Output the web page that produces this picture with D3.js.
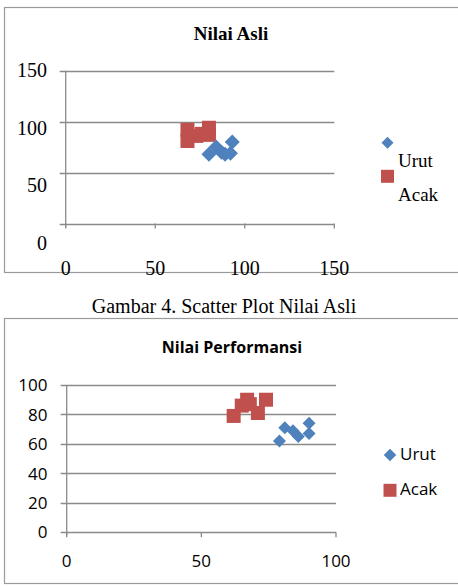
<!DOCTYPE html>
<html>
<head>
<meta charset="utf-8">
<script src="https://cdn.jsdelivr.net/npm/d3@7"></script>
<style>
  body { margin: 0; background: #fff; }
  svg { display: block; }
</style>
</head>
<body>
<div id="chart"></div>
<script>
// values
var seriesNames = ["Urut", "Acak"]
var seriesColors = ["#4F81BD", "#C0504D"]

var asliUrut = [[80, 68], [84, 75], [87, 70], [89, 68], [92, 69], [93, 80]]
var asliAcak = [[68, 92], [68, 81], [73, 86], [76, 88], [80, 94], [80, 87]]
var asliTicks = [0, 50, 100, 150]

var perfUrut = [[79, 62], [81, 71], [84, 69], [86, 65], [90, 74], [90, 67]]
var perfAcak = [[62, 79], [65, 86], [67, 90], [68, 87], [71, 81], [74, 90]]
var perfYTicks = [0, 20, 40, 60, 80, 100]
var perfXTicks = [0, 50, 100]

var caption = "Gambar 4. Scatter Plot Nilai Asli"

var svg = d3.select("#chart").append("svg")
            .attr("width", 458)
            .attr("height", 586)

var gridColor = "#8a8a8a"

function frame(g, top, bottom) {
    g.append("rect")
        .attr("x", 4.5).attr("y", top + 0.5)
        .attr("width", 470).attr("height", bottom - top)
        .attr("fill", "none")
        .attr("stroke", "#9a9a9a")
        .attr("stroke-width", 1.2)
}

function marker(name, size) {
    if (name == "Urut") {
        return d3.symbol().type(d3.symbolSquare).size(size * size / 2)()
    }
    return d3.symbol().type(d3.symbolSquare).size(size * size)()
}

function drawPoints(g, x, y, data, name, size) {
    var color = seriesColors[seriesNames.indexOf(name)]
    g.selectAll(".pt-" + name)
        .data(data)
        .enter().append("path")
        .attr("class", "pt-" + name)
        .attr("d", marker(name, size))
        .attr("fill", color)
        .attr("transform", function(d) {
            return "translate(" + x(d[0]) + "," + y(d[1]) + ")" + (name == "Urut" ? " rotate(45)" : "")
        })
}

function gridAndAxes(g, x, y, yTicks, xTicks) {
    // horizontal gridlines (with a small tick out to the left)
    g.selectAll(".grid")
        .data(yTicks)
        .enter().append("line")
        .attr("x1", x.range()[0] - 6)
        .attr("x2", x.range()[1])
        .attr("y1", function(d) { return Math.round(y(d)) + 0.5 })
        .attr("y2", function(d) { return Math.round(y(d)) + 0.5 })
        .attr("stroke", gridColor)
        .attr("stroke-width", 1.3)

    // y axis line
    g.append("line")
        .attr("x1", x(0)).attr("x2", x(0))
        .attr("y1", y(yTicks[yTicks.length - 1])).attr("y2", y(0) + 3)
        .attr("stroke", gridColor).attr("stroke-width", 1.3)

    // x ticks
    g.selectAll(".xtick")
        .data(xTicks)
        .enter().append("line")
        .attr("x1", function(d) { return x(d) }).attr("x2", function(d) { return x(d) })
        .attr("y1", y(0)).attr("y2", y(0) + 5)
        .attr("stroke", gridColor).attr("stroke-width", 1.3)
}

// ---------- chart 1 : Nilai Asli ----------
var g1 = svg.append("g")
frame(g1, 7, 272)

var x1 = d3.scaleLinear().domain([0, 150]).range([65.7, 334.3])
var y1 = d3.scaleLinear().domain([0, 150]).range([223.5, 70.7])
// the labels of this chart sit on a looser spacing than the gridlines
var y1Lab = d3.scaleLinear().domain([0, 150]).range([243, 70])

gridAndAxes(g1, x1, y1, asliTicks, asliTicks)

g1.selectAll(".ylab")
    .data(asliTicks)
    .enter().append("text")
    .attr("x", 47)
    .attr("y", function(d) { return y1Lab(d) })
    .attr("dy", "0.35em")
    .style("text-anchor", "end")
    .style("font", "20px 'Liberation Serif', serif")
    .text(function(d) { return d })

g1.selectAll(".xlab")
    .data(asliTicks)
    .enter().append("text")
    .attr("x", function(d) { return x1(d) })
    .attr("y", 275)
    .style("text-anchor", "middle")
    .style("font", "20px 'Liberation Serif', serif")
    .text(function(d) { return d })

drawPoints(g1, x1, y1, asliAcak, "Acak", 14)
drawPoints(g1, x1, y1, asliUrut, "Urut", 15)

g1.append("text")
    .attr("x", 231).attr("y", 39.5)
    .style("text-anchor", "middle")
    .style("font", "bold 19px 'Liberation Serif', serif")
    .text("Nilai Asli")

// legend (text sits below its marker)
var leg1 = [{ name: "Urut", my: 142.7, ty: 166.7 }, { name: "Acak", my: 176.3, ty: 201 }]
leg1.forEach(function(d) {
    g1.append("path")
        .attr("d", marker(d.name, d.name == "Urut" ? 12 : 13))
        .attr("fill", seriesColors[seriesNames.indexOf(d.name)])
        .attr("transform", "translate(387.5," + d.my + ")" + (d.name == "Urut" ? " rotate(45)" : ""))
    g1.append("text")
        .attr("x", 398).attr("y", d.ty)
        .style("font", "19px 'Liberation Serif', serif")
        .text(d.name)
})

// caption
svg.append("text")
    .attr("x", 224).attr("y", 312.5)
    .style("text-anchor", "middle")
    .style("font", "20px 'Liberation Serif', serif")
    .text(caption)

// ---------- chart 2 : Nilai Performansi ----------
var g2 = svg.append("g")
frame(g2, 318, 583)

var x2 = d3.scaleLinear().domain([0, 100]).range([66.7, 336])
var y2 = d3.scaleLinear().domain([0, 100]).range([532.3, 385])

gridAndAxes(g2, x2, y2, perfYTicks, perfXTicks)

g2.selectAll(".ylab")
    .data(perfYTicks)
    .enter().append("text")
    .attr("x", 47.5)
    .attr("y", function(d) { return y2(d) })
    .attr("dy", "0.36em")
    .style("text-anchor", "end")
    .style("font", "17px 'Open Sans', sans-serif")
    .text(function(d) { return d })

g2.selectAll(".xlab")
    .data(perfXTicks)
    .enter().append("text")
    .attr("x", function(d) { return x2(d) })
    .attr("y", 567)
    .style("text-anchor", "middle")
    .style("font", "17px 'Open Sans', sans-serif")
    .text(function(d) { return d })

drawPoints(g2, x2, y2, perfAcak, "Acak", 14)
drawPoints(g2, x2, y2, perfUrut, "Urut", 13)

g2.append("text")
    .attr("x", 232).attr("y", 353)
    .style("text-anchor", "middle")
    .style("font", "bold 16px 'Open Sans', sans-serif")
    .text("Nilai Performansi")

var leg2 = [{ name: "Urut", my: 455, ty: 459.5 }, { name: "Acak", my: 490.3, ty: 494.5 }]
leg2.forEach(function(d) {
    g2.append("path")
        .attr("d", marker(d.name, d.name == "Urut" ? 12.5 : 13))
        .attr("fill", seriesColors[seriesNames.indexOf(d.name)])
        .attr("transform", "translate(390," + d.my + ")" + (d.name == "Urut" ? " rotate(45)" : ""))
    g2.append("text")
        .attr("x", 400).attr("y", d.ty)
        .style("font", "17px 'Open Sans', sans-serif")
        .text(d.name)
})
</script>
</body>
</html>
